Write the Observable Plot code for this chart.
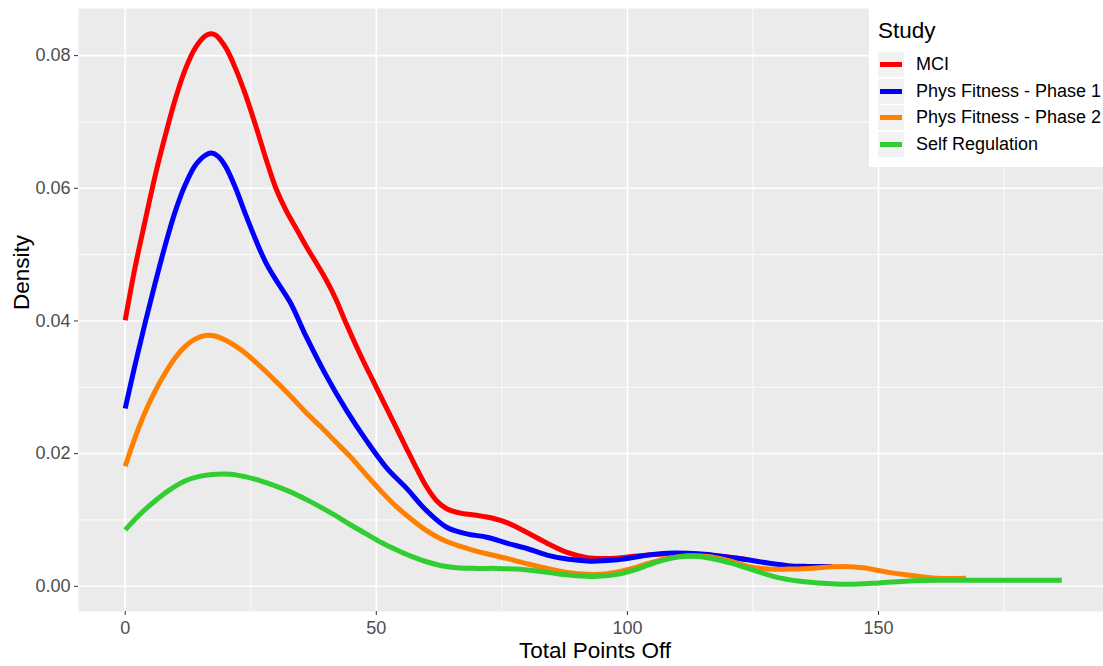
<!DOCTYPE html>
<html>
<head>
<meta charset="utf-8">
<script src="https://cdn.jsdelivr.net/npm/d3@7"></script>
<script src="https://cdn.jsdelivr.net/npm/@observablehq/plot@0.6"></script>
<style>
  body { margin: 0; background: #fff; font-family: "Liberation Sans", Arial, sans-serif; }
  #wrap { position: relative; width: 1103px; height: 666px; overflow: hidden; }
  #legend { position: absolute; left: 869px; top: 0; width: 234px; height: 167px; background: #fff; }
  #legend .title { position: absolute; left: 9px; top: 18px; font-size: 22.5px; color: #000; line-height: 26px; }
  #legend .item { position: absolute; left: 9px; height: 25px; display: flex; align-items: center; }
  #legend .key { width: 26px; height: 25px; background: #F2F2F2; position: relative; margin-right: 12px; }
  #legend .key span { position: absolute; left: 2px; right: 2px; top: 10px; height: 5px; }
  #legend .lab { font-size: 18px; color: #000; white-space: nowrap; }
</style>
</head>
<body>
<div id="wrap"><div id="legend"></div></div>
<script>
// Study groups and their line colours
const studies = ["MCI", "Phys Fitness - Phase 1", "Phys Fitness - Phase 2", "Self Regulation"];
const colors = ["#FF0000", "#0000FF", "#FF8000", "#32CD32"];

// Density curves: Total Points Off (x) vs. Density (y)
const mciX = [0, 2, 4, 6, 8, 10, 12, 14, 16, 17, 18, 20, 22, 24, 26, 28, 30, 32, 34, 36, 38, 40, 42, 44, 47, 50, 53, 56, 58, 60, 62, 64, 67, 70, 73, 76, 80, 84, 88, 92, 96, 100, 104, 108, 112, 116, 120, 124];
const mciY = [0.0401, 0.0482, 0.0552, 0.0620, 0.0680, 0.0735, 0.0780, 0.0812, 0.0830, 0.0833, 0.0831, 0.0812, 0.0780, 0.0740, 0.0694, 0.0645, 0.0600, 0.0567, 0.0540, 0.0513, 0.0488, 0.0462, 0.0432, 0.0396, 0.0346, 0.0300, 0.0254, 0.0208, 0.0178, 0.0150, 0.0129, 0.0117, 0.0110, 0.0107, 0.0103, 0.0096, 0.0081, 0.0065, 0.0051, 0.0043, 0.0042, 0.0044, 0.0047, 0.0049, 0.0049, 0.0047, 0.0044, 0.0040];

const pf1X = [0, 2, 4, 6, 8, 10, 12, 14, 16, 17.2, 18.5, 20, 22, 24, 26, 28, 30, 33, 36, 40, 44, 48, 52, 56, 60, 64, 68, 72, 76, 80, 84, 88, 92, 96, 100, 104, 108, 112, 116, 120, 124, 128, 132, 136, 140.8];
const pf1Y = [0.0268, 0.0335, 0.0398, 0.0458, 0.0515, 0.0566, 0.0606, 0.0635, 0.0650, 0.0653, 0.0648, 0.0633, 0.0600, 0.0560, 0.0522, 0.0488, 0.0462, 0.0426, 0.0377, 0.0318, 0.0266, 0.0220, 0.0179, 0.0148, 0.0114, 0.0089, 0.0079, 0.0074, 0.0065, 0.0057, 0.0047, 0.0041, 0.0038, 0.0039, 0.0042, 0.0047, 0.0050, 0.0050, 0.0048, 0.0044, 0.0040, 0.0035, 0.0031, 0.0030, 0.0030];

const pf2X = [0, 2, 4, 6, 8, 10, 12, 14, 16, 18, 20, 22, 24, 27, 30, 33, 36, 39, 42, 45, 48, 51, 54, 57, 60, 63, 66, 69, 72, 76, 80, 84, 88, 92, 96, 100, 104, 108, 112, 116, 120, 124, 128, 132, 136, 140, 143, 147, 152, 157, 162, 167.4];
const pf2Y = [0.0181, 0.0225, 0.0263, 0.0295, 0.0322, 0.0345, 0.0362, 0.0373, 0.0378, 0.0377, 0.0371, 0.0362, 0.0351, 0.0331, 0.0309, 0.0286, 0.0262, 0.0240, 0.0217, 0.0194, 0.0168, 0.0143, 0.0120, 0.0101, 0.0084, 0.0071, 0.0062, 0.0055, 0.0049, 0.0042, 0.0034, 0.0027, 0.0021, 0.0018, 0.0019, 0.0025, 0.0034, 0.0042, 0.0046, 0.0045, 0.0039, 0.0030, 0.0026, 0.0026, 0.0027, 0.0029, 0.0030, 0.0028, 0.0021, 0.0016, 0.0012, 0.0012];

const srX = [0, 3, 6, 9, 12, 15, 18, 21, 24, 27, 30, 33, 36, 39, 42, 45, 48, 51, 54, 57, 60, 63, 66, 70, 74, 78, 82, 86, 90, 94, 98, 102, 106, 110, 114, 118, 122, 126, 130, 134, 138, 144, 150, 156, 162, 170, 178, 186.5];
const srY = [0.0085, 0.0109, 0.0129, 0.0146, 0.0159, 0.0166, 0.0169, 0.0169, 0.0165, 0.0159, 0.0151, 0.0142, 0.0131, 0.0119, 0.0106, 0.0092, 0.0079, 0.0066, 0.0055, 0.0045, 0.0037, 0.0031, 0.0028, 0.0027, 0.0027, 0.0026, 0.0023, 0.0019, 0.0016, 0.0015, 0.0018, 0.0026, 0.0037, 0.0044, 0.0045, 0.0040, 0.0032, 0.0022, 0.0013, 0.0008, 0.0005, 0.0003, 0.0005, 0.0008, 0.0009, 0.0009, 0.0009, 0.0009];

// Axis ticks and grid positions
const xMajor = [0, 50, 100, 150];
const xMinor = [25, 75, 125, 175];
const yMajor = [0, 0.02, 0.04, 0.06, 0.08];
const yMinor = [0.01, 0.03, 0.05, 0.07];

// Long-format table built from the series arrays
const seriesX = [mciX, pf1X, pf2X, srX];
const seriesY = [mciY, pf1Y, pf2Y, srY];
const rows = studies.flatMap((s, i) => seriesX[i].map((x, j) => ({study: s, x, y: seriesY[i][j]})));

const font = "'Liberation Sans', Arial, sans-serif";

const chart = Plot.plot({
  width: 1103,
  height: 666,
  marginLeft: 78,
  marginRight: 0,
  marginTop: 8,
  marginBottom: 55,
  style: {fontFamily: font, background: "transparent"},
  x: {domain: [-9.3, 194.8]},
  y: {domain: [-0.0038, 0.0871]},
  color: {domain: studies, range: colors},
  marks: [
    Plot.frame({fill: "#EBEBEB", stroke: null}),
    Plot.ruleX(xMinor, {stroke: "#fff", strokeWidth: 0.8}),
    Plot.ruleY(yMinor, {stroke: "#fff", strokeWidth: 0.8}),
    Plot.ruleX(xMajor, {stroke: "#fff", strokeWidth: 1.6}),
    Plot.ruleY(yMajor, {stroke: "#fff", strokeWidth: 1.6}),
    Plot.line(rows, {
      x: "x", y: "y", z: "study", stroke: "study",
      strokeWidth: 5, curve: "catmull-rom", strokeLinecap: "butt", strokeLinejoin: "round"
    }),
    Plot.axisX({
      ticks: xMajor, tickSize: 4, tickPadding: 6, fontSize: 18,
      color: "#4D4D4D", stroke: "#333", label: null
    }),
    Plot.axisY({
      ticks: yMajor, tickSize: 4, tickPadding: 4, fontSize: 18,
      color: "#4D4D4D", stroke: "#333", tickFormat: d3.format(".2f"), label: null
    }),
    Plot.text(["Total Points Off"], {
      frameAnchor: "bottom", lineAnchor: "middle", dy: 39, dx: 4, fontSize: 22.5, fill: "#000"
    }),
    Plot.text(["Density"], {
      frameAnchor: "left", dx: -57, rotate: -90, fontSize: 22.5, fill: "#000"
    })
  ]
});

const wrap = document.getElementById("wrap");
wrap.insertBefore(chart, wrap.firstChild);

// Legend drawn over the top-right corner of the panel
const legend = document.getElementById("legend");
const title = document.createElement("div");
title.className = "title";
title.textContent = "Study";
legend.appendChild(title);
studies.forEach((s, i) => {
  const item = document.createElement("div");
  item.className = "item";
  item.style.top = (52 + i * 26.7) + "px";
  const key = document.createElement("div");
  key.className = "key";
  const bar = document.createElement("span");
  bar.style.background = colors[i];
  key.appendChild(bar);
  const lab = document.createElement("div");
  lab.className = "lab";
  lab.textContent = s;
  item.appendChild(key);
  item.appendChild(lab);
  legend.appendChild(item);
});
</script>
</body>
</html>
